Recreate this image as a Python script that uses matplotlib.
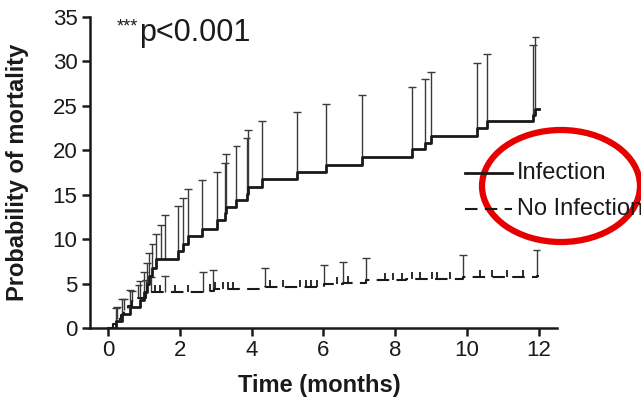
import numpy as np
import matplotlib
matplotlib.use('Agg')
import matplotlib.pyplot as plt
from matplotlib.lines import Line2D
from matplotlib.patches import Ellipse

plt.rcParams['font.family'] = ['Liberation Sans', 'DejaVu Sans']

# Kaplan-Meier style cumulative mortality (%), step times in months
inf_t   = [0.00, 0.22, 0.40, 0.62, 0.88, 1.00, 1.08, 1.15, 1.24, 1.35, 1.96, 2.10,
           2.24, 2.61, 3.03, 3.26, 3.29, 3.58, 3.86, 3.91, 4.28, 5.26, 6.07, 7.07,
           8.46, 8.83, 9.01, 10.27, 10.55, 11.85, 11.91, 12.00]
inf_lvl = [0.0, 0.8, 1.6, 2.4, 3.2, 4.1, 5.0, 5.9, 6.8, 7.8, 8.7, 9.5,
           10.3, 11.1, 12.1, 12.9, 13.6, 14.4, 15.1, 15.9, 16.8, 17.6, 18.4, 19.2,
           20.1, 20.8, 21.6, 22.5, 23.3, 24.0, 24.7, 24.7]

# upper confidence limits
inf_ci_t   = [0.22, 0.40, 0.62, 0.88, 1.00, 1.08, 1.15, 1.24, 1.35, 1.49, 1.59, 1.96,
              2.10, 2.24, 2.61, 3.03, 3.26, 3.29, 3.58, 3.86, 3.91, 4.28, 5.26, 6.07,
              7.07, 8.46, 8.83, 9.01, 10.27, 10.55, 11.85, 11.91]
inf_ci_top = [2.2, 3.3, 4.3, 5.3, 6.3, 7.3, 8.4, 9.5, 10.6, 11.6, 12.7, 13.7,
              14.6, 15.6, 16.6, 17.6, 18.6, 19.6, 20.5, 21.4, 22.3, 23.3, 24.3, 25.2,
              26.2, 27.1, 28.0, 28.8, 29.8, 30.8, 31.8, 32.7]

noinf_t   = [0.00, 0.15, 0.25, 0.35, 0.45, 0.55, 0.68, 0.85, 1.05, 1.20, 2.70, 2.95,
             4.37, 6.02, 6.55, 7.20, 8.30, 9.90, 11.94, 12.00]
noinf_lvl = [0.0, 0.5, 1.0, 1.5, 2.0, 2.5, 3.0, 3.4, 3.8, 4.0, 4.2, 4.4,
             4.6, 4.9, 5.1, 5.4, 5.5, 5.7, 5.9, 5.9]

noinf_ci_t   = [0.25, 0.45, 0.68, 0.85, 1.05, 1.20, 1.59, 2.65, 2.93, 4.37, 6.02,
                6.55, 7.20, 9.90, 11.94]
noinf_ci_top = [2.4, 3.3, 4.2, 4.8, 5.4, 5.7, 5.9, 6.3, 6.5, 6.8, 7.1,
                7.4, 7.9, 8.2, 8.8]

# censored observations in the no-infection group
noinf_cens = [1.30, 1.45, 1.87, 2.24, 2.84, 2.98, 3.21, 3.35, 3.49, 4.51, 4.88,
              5.35, 5.53, 5.67, 5.81, 6.37, 6.69, 7.72, 7.95, 8.18, 8.46, 8.69,
              9.02, 9.16, 9.53, 10.36, 10.69, 11.11, 11.57]


def level_at(times, levels, x):
    idx = np.searchsorted(times, x, side='right') - 1
    return np.asarray(levels)[idx]


fig = plt.figure(figsize=(6.41, 4.01), dpi=100)
ax = fig.add_axes([90 / 641, 73 / 401, 467 / 641, 311 / 401])

ink = '#1a1a1a'
bar_col = '#3a3a3a'
cap_w = 0.11

# ── error bars (drawn first, behind curves) ──────────────────────────────
base = level_at(inf_t, inf_lvl, np.array(inf_ci_t))
ax.vlines(inf_ci_t, base, inf_ci_top, color=bar_col, lw=1.0, zorder=2)
ax.hlines(inf_ci_top, np.array(inf_ci_t) - cap_w, np.array(inf_ci_t) + cap_w,
          color=bar_col, lw=1.0, zorder=2)

base = level_at(noinf_t, noinf_lvl, np.array(noinf_ci_t))
ax.vlines(noinf_ci_t, base, noinf_ci_top, color=bar_col, lw=1.0, zorder=2)
ax.hlines(noinf_ci_top, np.array(noinf_ci_t) - cap_w, np.array(noinf_ci_t) + cap_w,
          color=bar_col, lw=1.0, zorder=2)

# censor ticks
cb = level_at(noinf_t, noinf_lvl, np.array(noinf_cens))
ax.vlines(noinf_cens, cb, cb + 0.8, color=ink, lw=1.3, zorder=3)

# ── survival steps ──────────────────────────────────────────────────────
ax.step(inf_t, inf_lvl, where='post', color=ink, lw=2.0, zorder=4)
ax.step(noinf_t, noinf_lvl, where='post', color=ink, lw=1.5,
        dashes=(6, 3.5), zorder=4)

# ── axes styling ────────────────────────────────────────────────────────
ax.set_xlim(-0.5, 12.51)
ax.set_ylim(0, 35)
ax.set_xticks(range(0, 13, 2))
ax.set_yticks(range(0, 36, 5))
for s in ['top', 'right']:
    ax.spines[s].set_visible(False)
for s in ['left', 'bottom']:
    ax.spines[s].set_linewidth(1.8)
    ax.spines[s].set_color(ink)
ax.tick_params(direction='out', length=6, width=1.8, color=ink,
               labelsize=16, labelcolor=ink, pad=3)
ax.set_xlabel('Time (months)', fontsize=17, fontweight='bold', color=ink)
ax.set_ylabel('Probability of mortality', fontsize=17, fontweight='bold', color=ink)
ax.xaxis.set_label_coords(0.49, -0.148)
ax.yaxis.set_label_coords(-0.13, 0.5)

# significance
fig.text(117 / 641, 1 - 18 / 401, '***', fontsize=13, color=ink, va='top')
fig.text(139 / 641, 1 - 33 / 401, 'p<0.001', fontsize=22, color=ink, va='center')

# ── legend ──────────────────────────────────────────────────────────────
fig.add_artist(Line2D([465 / 641, 512 / 641], [1 - 173 / 401, 1 - 173 / 401],
                      color=ink, lw=2.0))
fig.add_artist(Line2D([465 / 641, 512 / 641], [1 - 209 / 401, 1 - 209 / 401],
                      color=ink, lw=1.5, dashes=(6, 3.5)))
fig.text(517 / 641, 1 - 173 / 401, 'Infection', fontsize=17, color=ink, va='center')
fig.text(517 / 641, 1 - 209 / 401, 'No Infection', fontsize=17, color=ink, va='center')

# highlight ring around legend
ring = Ellipse((561 / 641, 1 - 186 / 401), 158 / 641, 112 / 401,
               transform=fig.transFigure, fill=False, edgecolor='#e60000', lw=4.5)
fig.add_artist(ring)

fig.savefig('out.png', dpi=100)
